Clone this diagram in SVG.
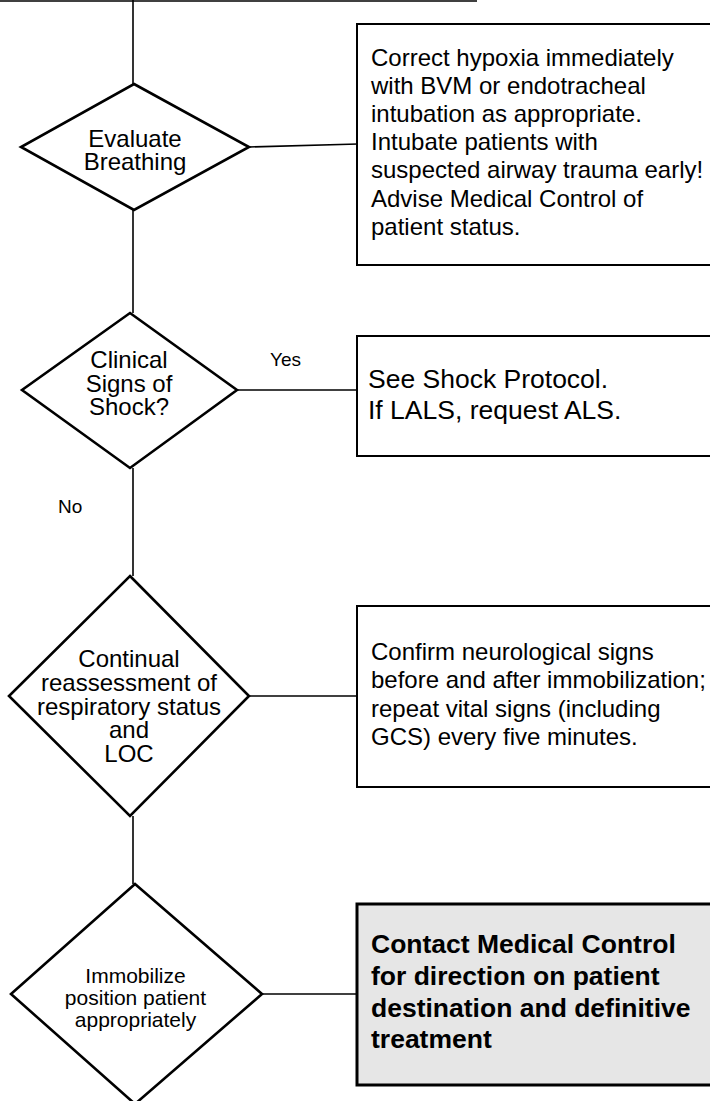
<svg xmlns="http://www.w3.org/2000/svg" width="710" height="1101" viewBox="0 0 710 1101">
<style>
  .dia { fill: #ffffff; stroke: #000000; stroke-width: 2.6; stroke-linejoin: miter; }
  .box { fill: #ffffff; stroke: #000000; stroke-width: 2; }
  .gbox { fill: #e6e6e6; stroke: #000000; stroke-width: 3; }
  .conn { fill: none; stroke: #000000; stroke-width: 1.6; }
  text { font-family: "Liberation Sans", Arial, sans-serif; fill: #000000; }
  .dt { font-size: 24px; text-anchor: middle; }
  .bt { font-size: 24px; }
  .lbl { font-size: 19px; }
</style>
<rect x="0" y="0" width="710" height="1101" fill="#ffffff"/>
<g id="connectors">
  <line class="conn" x1="0" y1="1" x2="477" y2="1" stroke-width="2"/>
  <line class="conn" x1="133" y1="0" x2="133" y2="84"/>
  <line class="conn" x1="133" y1="210" x2="133" y2="313"/>
  <line class="conn" x1="133" y1="468" x2="133" y2="576"/>
  <line class="conn" x1="133" y1="816" x2="133" y2="884"/>
  <line class="conn" x1="249" y1="147" x2="358" y2="144"/>
  <line class="conn" x1="237" y1="390" x2="358" y2="390"/>
  <line class="conn" x1="249" y1="696" x2="358" y2="696"/>
  <line class="conn" x1="262" y1="994" x2="357" y2="994"/>
  <text class="lbl" x="270" y="366">Yes</text>
  <text class="lbl" x="58" y="513">No</text>
</g>
<g id="evaluate-breathing">
  <polygon class="dia" points="134,84 249,147 134,210 21,147"/>
  <text class="dt" x="135" y="147">Evaluate</text>
  <text class="dt" x="135" y="170">Breathing</text>
</g>
<g id="box-hypoxia">
  <rect class="box" x="357" y="24" width="370" height="241"/>
  <text class="bt" x="371" y="65.5">Correct hypoxia immediately</text>
  <text class="bt" x="371" y="93.7">with BVM or endotracheal</text>
  <text class="bt" x="371" y="121.9">intubation as appropriate.</text>
  <text class="bt" x="371" y="150.1">Intubate patients with</text>
  <text class="bt" x="371" y="178.3">suspected airway trauma early!</text>
  <text class="bt" x="371" y="206.5">Advise Medical Control of</text>
  <text class="bt" x="371" y="234.7">patient status.</text>
</g>
<g id="clinical-shock">
  <polygon class="dia" points="130,313 237,390 130,468 22,390"/>
  <text class="dt" x="129" y="368">Clinical</text>
  <text class="dt" x="129" y="391.5">Signs of</text>
  <text class="dt" x="129" y="415">Shock?</text>
</g>
<g id="box-shock">
  <rect class="box" x="357" y="336" width="370" height="120"/>
  <text x="368" y="388" font-size="26.5">See Shock Protocol.</text>
  <text x="368" y="419" font-size="26.5">If LALS, request ALS.</text>
</g>
<g id="reassessment">
  <polygon class="dia" points="130,576 249,696 130,816 9,696"/>
  <text class="dt" x="129" y="667.3">Continual</text>
  <text class="dt" x="129" y="691">reassessment of</text>
  <text class="dt" x="129" y="714.5">respiratory status</text>
  <text class="dt" x="129" y="738.3">and</text>
  <text class="dt" x="129" y="762">LOC</text>
</g>
<g id="box-neuro">
  <rect class="box" x="357" y="606" width="370" height="181"/>
  <text class="bt" x="371" y="660">Confirm neurological signs</text>
  <text class="bt" x="371" y="688.3">before and after immobilization;</text>
  <text class="bt" x="371" y="716.6">repeat vital signs (including</text>
  <text class="bt" x="371" y="744.9">GCS) every five minutes.</text>
</g>
<g id="immobilize">
  <polygon class="dia" points="135,884 262,994 135,1104 11,994"/>
  <text x="135.5" y="983.3" font-size="21" text-anchor="middle">Immobilize</text>
  <text x="135.5" y="1005" font-size="21" text-anchor="middle">position patient</text>
  <text x="135.5" y="1026.7" font-size="21" text-anchor="middle">appropriately</text>
</g>
<g id="box-contact">
  <rect class="gbox" x="357" y="904" width="370" height="181"/>
  <text x="371" y="953.3" font-size="26.5" font-weight="bold">Contact Medical Control</text>
  <text x="371" y="985" font-size="26.5" font-weight="bold">for direction on patient</text>
  <text x="371" y="1016.7" font-size="26.5" font-weight="bold">destination and definitive</text>
  <text x="371" y="1048.3" font-size="26.5" font-weight="bold">treatment</text>
</g>
</svg>
